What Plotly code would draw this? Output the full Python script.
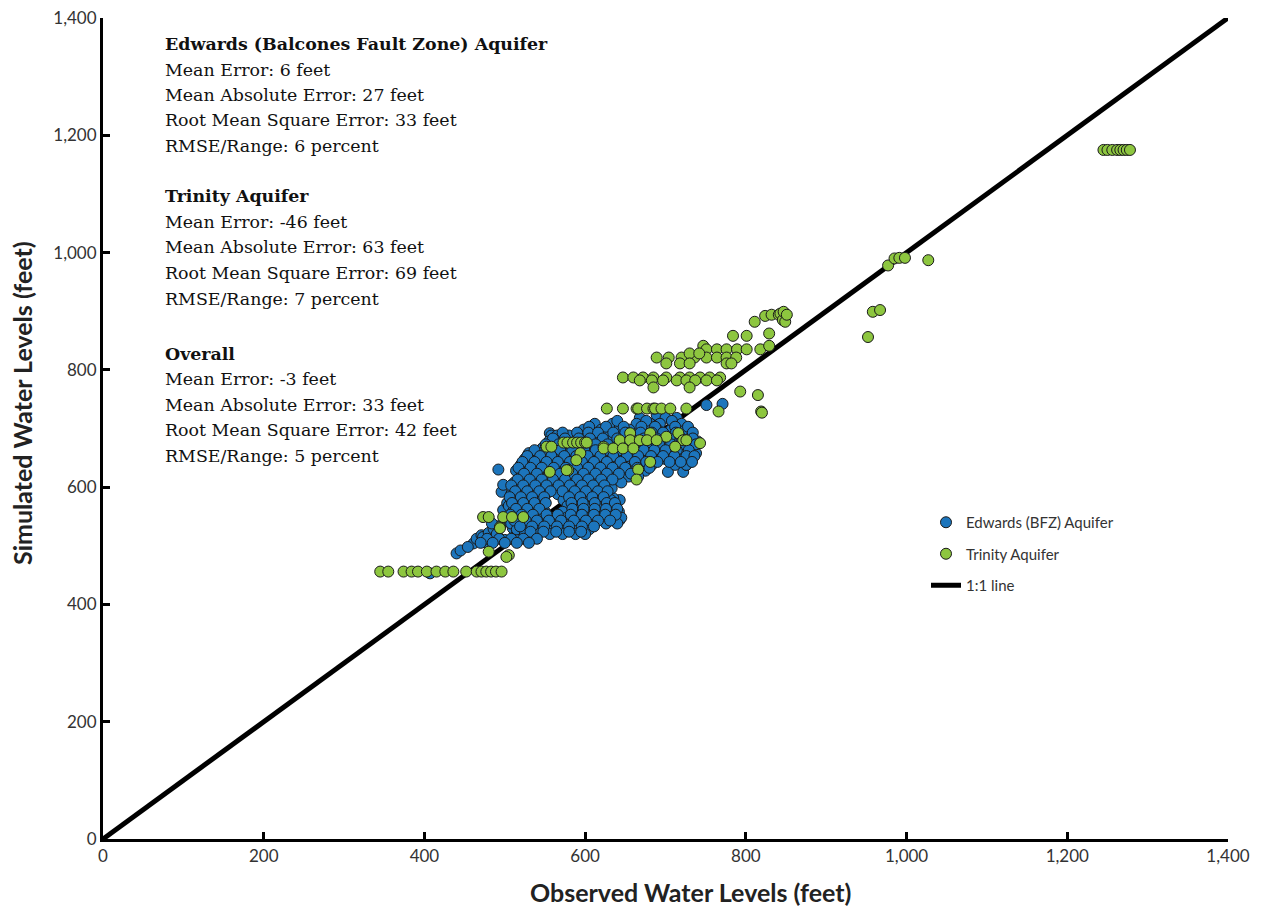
import plotly.graph_objects as go

# ---------------- data ----------------
# Edwards (BFZ) Aquifer: observed / simulated (feet)
edw_edge_obs = [407, 440, 445, 461, 465, 471, 473, 480, 486, 490, 495, 500, 492, 517, 556, 496, 498, 519,
                498, 503, 500, 506, 510, 515, 520, 529, 538, 545, 541, 751, 771, 703, 722, 726, 735, 643,
                639, 643, 558, 454, 478, 484, 664, 689, 730, 739, 635, 639]
edw_edge_sim = [453, 487, 492, 504, 512, 518, 515, 522, 529, 520, 535, 510, 630, 632, 692, 592, 604, 601,
                561, 573, 548, 540, 530, 520, 515, 655, 648, 664, 640, 740, 742, 626, 626, 638, 655, 544,
                550, 578, 688, 498, 505, 538, 618, 723, 697, 675, 581, 612]

edw_rows_sim = [718, 708, 698, 688, 678, 668, 658, 648, 638, 628, 618, 608, 598, 588, 578, 568, 558, 548,
                538, 528, 520,
                713, 703, 693, 683, 673, 663, 653, 643, 633, 623, 613, 603, 593, 583, 573, 563, 553, 543,
                533, 524, 512, 505]
edw_rows_obs = [
    [668, 700, 714],
    [612, 634, 664, 681, 693, 720],
    [598, 620, 642, 655, 676, 690, 707, 725],
    [565, 580, 595, 610, 628, 648, 662, 684, 700, 716, 733],
    [555, 572, 588, 603, 618, 633, 652, 667, 680, 696, 710, 726, 740],
    [548, 563, 578, 594, 609, 622, 640, 655, 671, 688, 703, 719, 735],
    [530, 545, 560, 574, 590, 604, 617, 632, 648, 663, 678, 694, 708, 722, 738],
    [525, 540, 553, 568, 583, 598, 612, 626, 641, 657, 672, 687, 700, 716, 731],
    [520, 535, 549, 563, 577, 592, 606, 621, 635, 650, 668, 683, 712, 726],
    [514, 530, 544, 558, 572, 587, 601, 615, 630, 645, 660, 675],
    [520, 536, 550, 565, 579, 594, 608, 622, 638, 654, 666],
    [512, 527, 542, 556, 571, 585, 600, 614, 628, 645],
    [516, 530, 546, 560, 575, 590, 604, 618, 633],
    [508, 522, 537, 551, 566, 581, 596, 610, 625],
    [512, 527, 541, 573, 588, 602, 617, 632],
    [505, 519, 533, 546, 578, 593, 608, 622, 638],
    [510, 524, 538, 550, 572, 586, 600, 614, 628, 642],
    [503, 517, 530, 545, 560, 577, 592, 606, 620, 634, 645],
    [508, 522, 536, 551, 566, 582, 597, 612, 626, 640],
    [515, 530, 545, 560, 575, 590, 605],
    [525, 540, 556, 572, 588, 600],
    [640, 676, 708],
    [605, 626, 648, 670, 687, 712, 728],
    [572, 590, 604, 616, 635, 650, 669, 683, 697, 713, 734],
    [560, 575, 592, 606, 622, 640, 657, 673, 689, 705, 720, 734],
    [551, 567, 583, 599, 613, 628, 646, 661, 676, 692, 707, 723, 738],
    [537, 553, 569, 584, 599, 613, 627, 643, 658, 673, 686, 700, 714, 729],
    [528, 544, 558, 574, 589, 603, 619, 635, 652, 666, 682, 697, 711, 726, 736],
    [522, 537, 552, 566, 581, 596, 611, 627, 644, 662, 676, 690, 705, 719, 733],
    [517, 532, 546, 561, 576, 590, 604, 619, 634, 650, 665, 680],
    [524, 540, 555, 569, 584, 598, 613, 627, 642, 657],
    [516, 531, 546, 560, 575, 590, 604, 620, 634],
    [508, 523, 538, 552, 567, 581, 596, 610, 624],
    [513, 528, 543, 557, 572, 587, 601, 616, 628],
    [506, 520, 534, 549, 580, 594, 609, 623],
    [509, 523, 537, 551, 583, 597, 612, 627, 637],
    [514, 528, 543, 584, 598, 612, 626, 640],
    [507, 521, 535, 552, 566, 582, 596, 611, 625, 638],
    [512, 526, 540, 555, 570, 586, 601, 616, 631],
    [519, 534, 549, 565, 580, 596, 611],
    [532, 548, 564, 580, 595],
    [478, 493, 508, 523, 540],
    [470, 485, 500, 515, 530],
]

# Trinity Aquifer: observed / simulated (feet)
tri_obs = [1245, 1250, 1256, 1262, 1266, 1270, 1274, 1278,
           1027, 977, 985, 991, 998, 952, 958, 967,
           811, 824, 832, 841, 843, 846, 847, 849, 851,
           829, 784, 801, 818, 829,
           747, 751, 764, 776, 789, 801,
           689, 704, 720, 736, 751, 764, 776, 788, 730, 742,
           701, 718, 730, 776, 782,
           647, 660, 672, 685, 701, 718, 730, 743, 755, 768,
           668, 683, 697, 714, 726, 737, 751, 764,
           685, 730, 793, 815, 819, 766, 820,
           627, 647, 664, 666, 677, 685, 687, 695, 706, 726,
           656, 681, 716, 701,
           643, 656, 668, 677, 689, 722, 726, 743,
           552, 623, 712, 558,
           623, 635, 647, 660,
           573, 578, 585, 590, 595, 600, 602,
           594, 589, 681, 666, 579, 577, 556, 664,
           473, 480, 494, 498, 509, 523, 494,
           480, 505, 502,
           345, 355, 374, 384, 392, 403, 415, 426, 436, 452, 465, 471, 477, 483, 489, 496]
tri_sim = [1175, 1175, 1175, 1175, 1175, 1175, 1175, 1175,
           987, 978, 990, 991, 991, 856, 899, 902,
           882, 892, 894, 894, 896, 885, 899, 882, 894,
           862, 858, 858, 835, 841,
           841, 835, 835, 835, 835, 835,
           821, 821, 821, 821, 821, 821, 821, 821, 828, 828,
           811, 811, 811, 811, 811,
           787, 787, 787, 787, 787, 787, 787, 787, 787, 787,
           782, 782, 782, 782, 782, 782, 782, 782,
           770, 770, 763, 757, 729, 729, 727,
           734, 734, 734, 734, 734, 734, 734, 734, 734, 734,
           692, 692, 692, 686,
           680, 680, 680, 680, 680, 680, 680, 675,
           669, 669, 669, 669,
           666, 666, 666, 666,
           676, 676, 676, 676, 676, 676, 676,
           658, 646, 643, 630, 629, 629, 626, 613,
           549, 549, 532, 549, 549, 549, 530,
           490, 484, 481,
           456, 456, 456, 456, 456, 456, 456, 456, 456, 456, 456, 456, 456, 456, 456, 456]

line_x = [0, 1400]
line_y = [0, 1400]

tick_vals = [0, 200, 400, 600, 800, 1000, 1200, 1400]
tick_text = ["0", "200", "400", "600", "800", "1,000", "1,200", "1,400"]

x_title = "Observed Water Levels (feet)"
y_title = "Simulated Water Levels (feet)"

stats_lines = [
    ("<b>Edwards (Balcones Fault Zone) Aquifer</b>", 44),
    ("Mean Error: 6 feet", 70),
    ("Mean Absolute Error: 27 feet", 95),
    ("Root Mean Square Error: 33 feet", 120),
    ("RMSE/Range: 6 percent", 146),
    ("<b>Trinity Aquifer</b>", 196),
    ("Mean Error: -46 feet", 222),
    ("Mean Absolute Error: 63 feet", 247),
    ("Root Mean Square Error: 69 feet", 273),
    ("RMSE/Range: 7 percent", 299),
    ("<b>Overall</b>", 354),
    ("Mean Error: -3 feet", 379),
    ("Mean Absolute Error: 33 feet", 405),
    ("Root Mean Square Error: 42 feet", 430),
    ("RMSE/Range: 5 percent", 456),
]

# ---------------- build ----------------
edw_obs = list(edw_edge_obs)
edw_sim = list(edw_edge_sim)
for s, row in zip(edw_rows_sim, edw_rows_obs):
    edw_obs.extend(row)
    edw_sim.extend([s] * len(row))

W, H = 1267, 909
ML, MR, MT, MB = 103, 39, 18, 70
PW, PH = W - ML - MR, H - MT - MB

SANS = "Lato, 'Open Sans', sans-serif"
SERIF = "'DejaVu Serif', serif"

def py2paper(py):
    return (H - MB - py) / PH

fig = go.Figure()
fig.add_trace(go.Scatter(
    x=line_x, y=line_y, mode="lines", name="1:1 line",
    line=dict(color="black", width=5), legendrank=3, legendgroup="c",
    hoverinfo="skip"))
fig.add_trace(go.Scatter(
    x=edw_obs, y=edw_sim, mode="markers", name="Edwards (BFZ) Aquifer",
    marker=dict(size=11, color="#1C75BC", line=dict(color="#1a1a1a", width=1)),
    legendrank=1, legendgroup="a"))
fig.add_trace(go.Scatter(
    x=tri_obs, y=tri_sim, mode="markers", name="Trinity Aquifer",
    marker=dict(size=11, color="#8DC63F", line=dict(color="#1a1a1a", width=1)),
    legendrank=2, legendgroup="b"))

annotations = []
for txt, py in stats_lines:
    annotations.append(dict(
        text=txt, xref="paper", yref="paper",
        x=(163 - ML) / PW, y=py2paper(py),
        xanchor="left", yanchor="middle", showarrow=False,
        font=dict(family=SERIF, size=17.4, color="#111111")))

# axis titles (positioned as in the original, slightly off-centre)
annotations.append(dict(
    text="<b>%s</b>" % x_title, xref="paper", yref="paper",
    x=(691 - ML) / PW, y=py2paper(892), xanchor="center", yanchor="middle",
    showarrow=False, font=dict(family=SANS, size=25, color="#222222")))
annotations.append(dict(
    text="<b>%s</b>" % y_title, xref="paper", yref="paper", textangle=-90,
    x=(22 - ML) / PW, y=py2paper(403), xanchor="center", yanchor="middle",
    showarrow=False, font=dict(family=SANS, size=25, color="#222222")))

axis_common = dict(
    range=[0, 1400], tickvals=tick_vals, ticktext=tick_text,
    showgrid=False, zeroline=False, showline=True, linecolor="black", linewidth=3,
    ticks="inside", ticklen=7, tickwidth=3, tickcolor="black",
    tickfont=dict(family=SANS, size=17, color="#333333"),
    automargin=False, fixedrange=True)

fig.update_layout(
    width=W, height=H,
    margin=dict(l=ML, r=MR, t=MT, b=MB, autoexpand=False),
    paper_bgcolor="white", plot_bgcolor="white",
    showlegend=True,
    legend=dict(x=(926 - ML) / PW, y=py2paper(506), xanchor="left", yanchor="top",
                font=dict(family=SANS, size=15, color="#333333"),
                bgcolor="rgba(0,0,0,0)", tracegroupgap=9),
    xaxis=dict(**axis_common),
    yaxis=dict(**axis_common),
    annotations=annotations,
)

fig.write_html("out.html")
